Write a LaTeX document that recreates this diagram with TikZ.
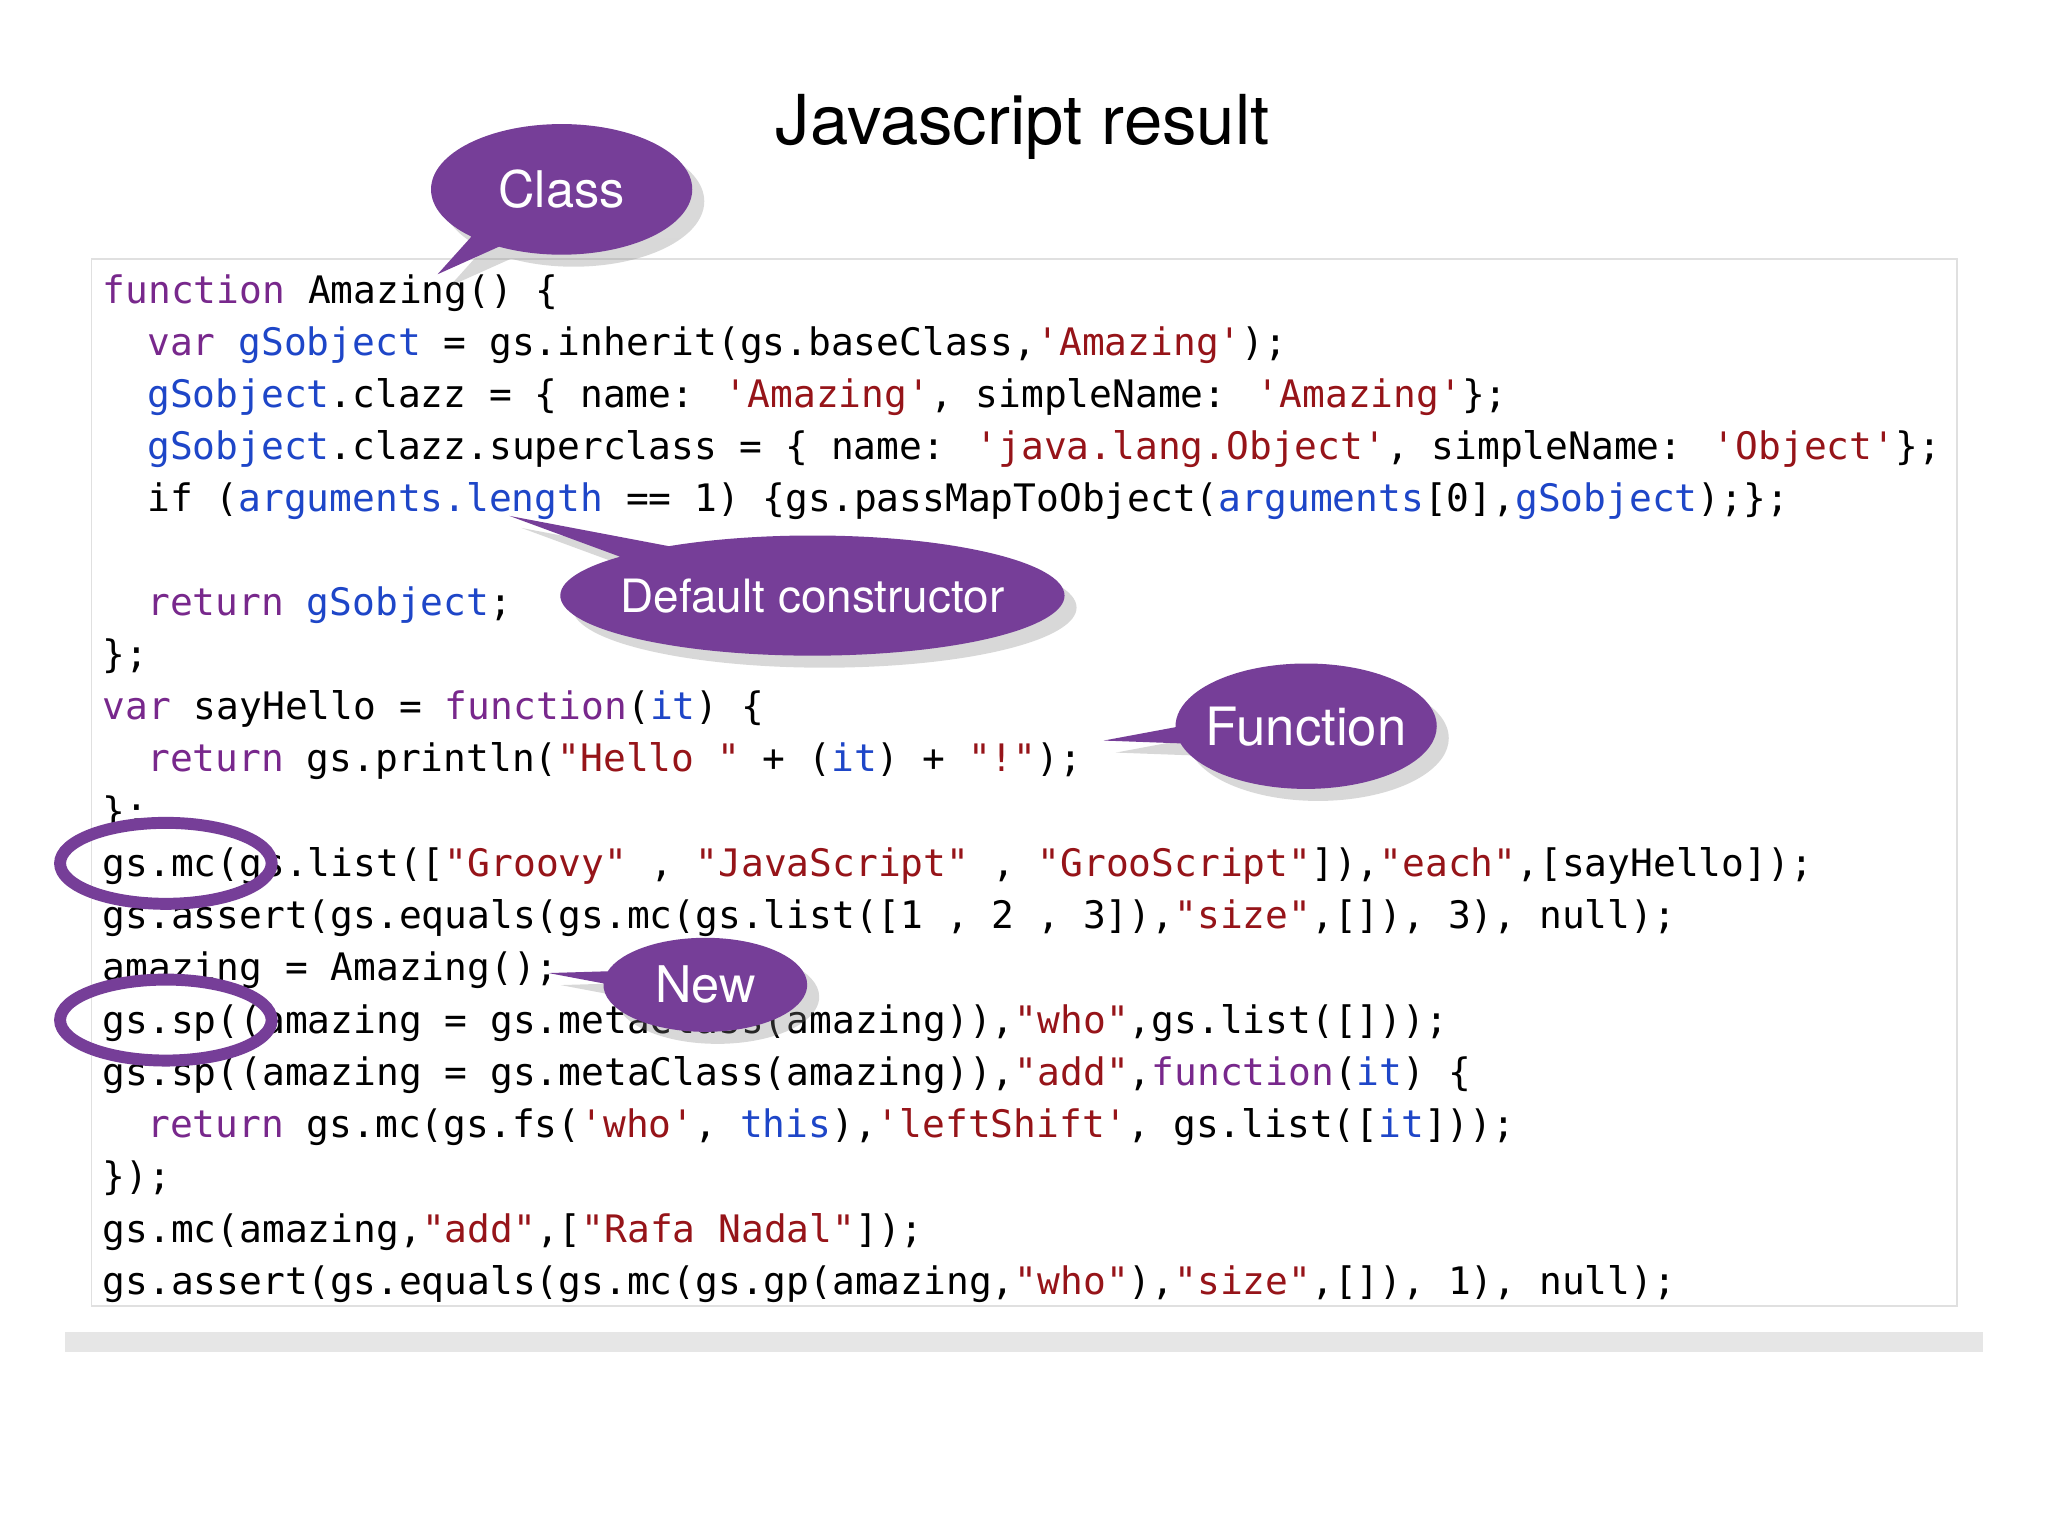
\documentclass[tikz,border=0pt]{standalone}
\usepackage{fontspec}
\setmainfont{TeX Gyre Heros}
\newfontfamily\codefont{DejaVu Sans Mono}
\usetikzlibrary{shapes.geometric,shapes.callouts,shadows}
\definecolor{kwc}{RGB}{120,40,140}
\definecolor{strc}{RGB}{150,20,25}
\definecolor{idc}{RGB}{30,70,200}
\definecolor{lila}{RGB}{118,62,152}
\newcommand{\kw}[1]{\textcolor{kwc}{#1}}
\newcommand{\strg}[1]{\textcolor{strc}{#1}}
\newcommand{\idn}[1]{\textcolor{idc}{#1}}
\tikzset{
  code/.style={anchor=base west, inner sep=0, font=\codefont\fontsize{8.25}{9}\selectfont},
  bubble/.style={ellipse callout, fill=lila, text=white, inner xsep=-3pt, inner ysep=1pt, drop shadow={opacity=0.3}},
  ring/.style={ellipse, draw=lila, line width=2.6pt, minimum width=1.62cm, minimum height=0.62cm}
}
\begin{document}
\begin{tikzpicture}
	\useasboundingbox (0,0) rectangle (15.68,-11.76);
	\node[font=\fontsize{15}{18}\selectfont] (title) at (7.83,-0.97) {Javascript result};
	% page
	\fill[white, drop shadow={opacity=0.2, shadow yshift=-0.15cm, shadow xshift=0cm}] (0.5,-1.82) rectangle (15.18,-10.2);
	\draw[black!12] (0.7,-1.98) rectangle (14.98,-10.0);
	% code
	\node[code] (l1) at (0.78,-2.32) {\kw{function} Amazing() \{};
	\node[code] (l2) at (1.12,-2.72) {\kw{var} \idn{gSobject} = gs.inherit(gs.baseClass,\strg{'Amazing'});};
	\node[code] (l3) at (1.12,-3.12) {\idn{gSobject}.clazz = \{ name: \strg{'Amazing'}, simpleName: \strg{'Amazing'}\};};
	\node[code] (l4) at (1.12,-3.52) {\idn{gSobject}.clazz.superclass = \{ name: \strg{'java.lang.Object'}, simpleName: \strg{'Object'}\};};
	\node[code] (l5) at (1.12,-3.92) {if (\idn{arguments.length} == 1) \{gs.passMapToObject(\idn{arguments}[0],\idn{gSobject});\};};
	\node[code] (l7) at (1.12,-4.71) {\kw{return} \idn{gSobject};};
	\node[code] (l8) at (0.78,-5.11) {\};};
	\node[code] (l9) at (0.78,-5.51) {\kw{var} sayHello = \kw{function}(\idn{it}) \{};
	\node[code] (l10) at (1.12,-5.91) {\kw{return} gs.println(\strg{"Hello "} + (\idn{it}) + \strg{"!"});};
	\node[code] (l11) at (0.78,-6.31) {\};};
	\node[code] (l12) at (0.78,-6.71) {gs.mc(gs.list([\strg{"Groovy"} , \strg{"JavaScript"} , \strg{"GrooScript"}]),\strg{"each"},[sayHello]);};
	\node[code] (l13) at (0.78,-7.11) {gs.assert(gs.equals(gs.mc(gs.list([1 , 2 , 3]),\strg{"size"},[]), 3), null);};
	\node[code] (l14) at (0.78,-7.51) {amazing = Amazing();};
	\node[code] (l15) at (0.78,-7.91) {gs.sp((amazing = gs.metaClass(amazing)),\strg{"who"},gs.list([]));};
	\node[code] (l16) at (0.78,-8.31) {gs.sp((amazing = gs.metaClass(amazing)),\strg{"add"},\kw{function}(\idn{it}) \{};
	\node[code] (l17) at (1.12,-8.71) {\kw{return} gs.mc(gs.fs(\strg{'who'}, \idn{this}),\strg{'leftShift'}, gs.list([\idn{it}]));};
	\node[code] (l18) at (0.78,-9.11) {\});};
	\node[code] (l19) at (0.78,-9.51) {gs.mc(amazing,\strg{"add"},[\strg{"Rafa Nadal"}]);};
	\node[code] (l20) at (0.78,-9.91) {gs.assert(gs.equals(gs.mc(gs.gp(amazing,\strg{"who"}),\strg{"size"},[]), 1), null);};
	% marks
	\node[ring] (mc) at (1.27,-6.61) {};
	\node[ring] (sp) at (1.27,-7.81) {};
	\node[bubble, minimum width=2.0cm, minimum height=1.0cm, font=\fontsize{11}{13}\selectfont, callout absolute pointer={(3.35,-2.1)}] (class) at (4.3,-1.45) {Class};
	\node[bubble, minimum width=3.54cm, minimum height=0.92cm, font=\fontsize{10}{12}\selectfont, callout absolute pointer={(3.9,-3.95)}] (ctor) at (6.22,-4.56) {Default constructor};
	\node[bubble, minimum width=2.0cm, minimum height=0.96cm, font=\fontsize{11.5}{14}\selectfont, callout absolute pointer={(8.45,-5.67)}] (func) at (10.0,-5.56) {Function};
	\node[bubble, minimum width=1.56cm, minimum height=0.72cm, font=\fontsize{11}{13}\selectfont, callout absolute pointer={(4.2,-7.45)}] (new) at (5.4,-7.54) {New};
\end{tikzpicture}
\end{document}
